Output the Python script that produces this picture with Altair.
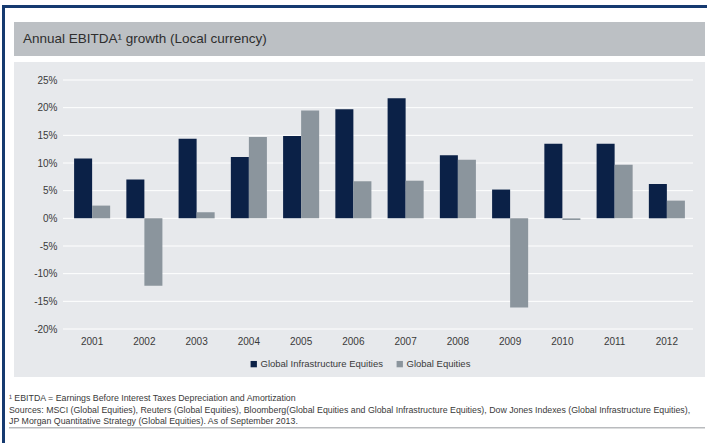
import altair as alt
import pandas as pd

years = ["2001", "2002", "2003", "2004", "2005", "2006", "2007", "2008", "2009", "2010", "2011", "2012"]
infra = [10.8, 7.0, 14.4, 11.1, 14.9, 19.7, 21.7, 11.4, 5.2, 13.5, 13.5, 6.2]
equities = [2.3, -12.2, 1.1, 14.7, 19.5, 6.7, 6.8, 10.6, -16.1, -0.3, 9.7, 3.2]
series_names = ["Global Infrastructure Equities", "Global Equities"]
series_colors = ["#0b2147", "#8b959d"]
y_ticks = [-20, -15, -10, -5, 0, 5, 10, 15, 20, 25]

title_text = "Annual EBITDA\u00b9 growth (Local currency)"
notes = [
    "\u00b9  EBITDA = Earnings Before Interest Taxes Depreciation and Amortization",
    "Sources: MSCI (Global Equities), Reuters (Global Equities), Bloomberg(Global Equities and Global Infrastructure Equities), Dow Jones Indexes (Global Infrastructure Equities),",
    "JP Morgan Quantitative Strategy (Global Equities). As of September 2013.",
]

rows = []
for i, yr in enumerate(years):
    rows.append({"year": yr, "series": series_names[0], "value": infra[i]})
    rows.append({"year": yr, "series": series_names[1], "value": equities[i]})
df = pd.DataFrame(rows)

W, H = 627, 249
PL, PT = 66, 80
one = pd.DataFrame({"_": [0]})


def box(x0, x1, y0, y1, color):
    # absolute page pixel coordinates converted to plot-relative values
    return alt.Chart(one).mark_rect(color=color).encode(
        x=alt.value(x0 - PL), x2=alt.value(x1 - PL),
        y=alt.value(y0 - PT), y2=alt.value(y1 - PT))


frame_top = box(2, 707, 5, 8, "#163a70")
frame_left = box(2, 5, 5, 443, "#163a70")
title_band = box(14, 705, 22, 56, "#bcc0c4")
panel = box(14, 705, 62, 377, "#e7e9ec")
separator = box(9, 705, 427, 428.5, "#b9bbbe")

title = alt.Chart(one).mark_text(
    text=title_text, align="left", baseline="middle", fontSize=13.5,
    color="#2e2e2e", font="Liberation Sans").encode(
    x=alt.value(23 - PL), y=alt.value(39 - PT))

note_layers = []
for k, line in enumerate(notes):
    note_layers.append(alt.Chart(one).mark_text(
        text=line, align="left", baseline="middle", fontSize=8.8,
        color="#3a3a3a", font="Liberation Sans").encode(
        x=alt.value(9 - PL), y=alt.value(398 + 11.5 * k - PT)))

ydomain = alt.Scale(domain=[-20, 25], nice=False, zero=False)
yaxis = alt.Axis(values=y_ticks, labelExpr="datum.value + '%'",
                 ticks=False, domain=False, grid=False, labelOverlap=False,
                 labelPadding=9, labelFontSize=10, labelColor="#3a3a3a",
                 zindex=1)

grid = alt.Chart(pd.DataFrame({"tick": y_ticks})).mark_rule(
    color="#ffffff", strokeWidth=1).encode(
    y=alt.Y("tick:Q", scale=ydomain, title=None, axis=yaxis),
    x=alt.value(-3), x2=alt.value(W))

bars = alt.Chart(df).mark_bar().encode(
    x=alt.X("year:N", sort=years, title=None,
            scale=alt.Scale(paddingInner=0.31, paddingOuter=0.155),
            axis=alt.Axis(labelAngle=0, ticks=False, domain=False, grid=False,
                          labelPadding=7, labelFontSize=10, labelColor="#3a3a3a",
                          zindex=1)),
    xOffset=alt.XOffset("series:N", sort=series_names),
    y=alt.Y("value:Q", scale=ydomain, title=None, axis=yaxis),
    color=alt.Color("series:N", sort=series_names,
                    scale=alt.Scale(domain=series_names, range=series_colors),
                    legend=alt.Legend(title=None, orient="none",
                                      legendX=249 - PL, legendY=359 - PT,
                                      direction="horizontal", symbolType="square",
                                      symbolSize=40, symbolStrokeWidth=0,
                                      labelFontSize=9.5, labelColor="#3a3a3a",
                                      labelOffset=2, columnPadding=11,
                                      zindex=1)),
)

chart = alt.layer(
    frame_top, frame_left, title_band, panel, separator, grid, bars, title, *note_layers
).properties(
    width=W, height=H,
    autosize=alt.AutoSizeParams(type="none"),
    padding={"left": PL, "top": PT, "right": 707 - PL - W, "bottom": 443 - PT - H},
    background="#ffffff",
).configure_view(stroke=None).configure(font="Liberation Sans")

chart.save("out.html", embed_options={"renderer": "svg", "actions": False})
